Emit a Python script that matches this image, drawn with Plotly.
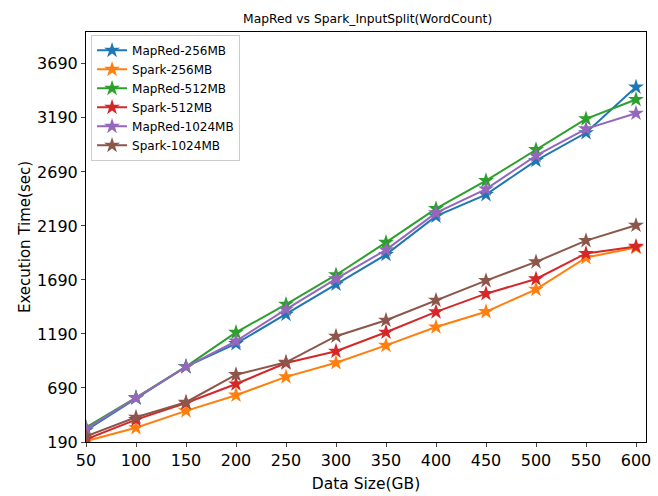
import plotly.graph_objects as go

data_size = [50, 100, 150, 200, 250, 300, 350, 400, 450, 500, 550, 600]

mapred_256 = [298, 597, 888, 1100, 1371, 1650, 1925, 2280, 2480, 2795, 3052, 3475]
spark_256 = [198, 322, 478, 623, 793, 923, 1084, 1254, 1396, 1603, 1897, 1990]
mapred_512 = [325, 600, 888, 1204, 1464, 1736, 2037, 2350, 2609, 2896, 3181, 3360]
spark_512 = [215, 397, 551, 727, 921, 1030, 1206, 1394, 1563, 1699, 1935, 2000]
mapred_1024 = [312, 598, 886, 1124, 1418, 1699, 1969, 2310, 2531, 2841, 3088, 3233]
spark_1024 = [243, 419, 558, 813, 928, 1169, 1317, 1502, 1684, 1857, 2054, 2196]

series = [
    ("MapRed-256MB", mapred_256, "#1f77b4"),
    ("Spark-256MB", spark_256, "#ff7f0e"),
    ("MapRed-512MB", mapred_512, "#2ca02c"),
    ("Spark-512MB", spark_512, "#d62728"),
    ("MapRed-1024MB", mapred_1024, "#9467bd"),
    ("Spark-1024MB", spark_1024, "#8c564b"),
]

y_ticks = [190, 690, 1190, 1690, 2190, 2690, 3190, 3690]
x_ticks = data_size

fig = go.Figure()
for name, vals, color in series:
    fig.add_trace(go.Scatter(
        x=data_size, y=vals, name=name, mode="lines+markers",
        line=dict(color=color, width=2),
        marker=dict(symbol="star", size=12, color=color),
    ))

font = "DejaVu Sans, sans-serif"
fig.update_layout(
    width=658, height=496,
    margin=dict(l=86, r=7, t=32, b=53),
    paper_bgcolor="white", plot_bgcolor="white",
    font=dict(family=font, color="black"),
    title=dict(text="MapRed vs Spark_InputSplit(WordCount)", x=0.503, xref="paper",
               xanchor="center", y=1 - 19 / 496, yref="container", yanchor="middle",
               font=dict(size=12.3, family=font)),
    showlegend=True,
    legend=dict(x=0.009, y=0.993, xanchor="left", yanchor="top",
                bgcolor="rgba(255,255,255,0.8)", bordercolor="#cccccc", borderwidth=1,
                font=dict(size=12, family=font), tracegroupgap=0),
    xaxis=dict(range=[50, 610], tickvals=x_ticks, ticks="outside", ticklen=4,
               showline=True, linecolor="black", linewidth=1, mirror=True,
               showgrid=False, zeroline=False, tickfont=dict(size=16),
               title=dict(text="Data Size(GB)", font=dict(size=15.5), standoff=8)),
    yaxis=dict(range=[190, 3985], tickvals=y_ticks, ticks="outside", ticklen=4,
               showline=True, linecolor="black", linewidth=1, mirror=True,
               showgrid=False, zeroline=False, tickfont=dict(size=16),
               title=dict(text="Execution Time(sec)", font=dict(size=15), standoff=2)),
)

fig.write_html("out.html", config={"displayModeBar": False},
               post_script="document.body.style.margin='0';")
